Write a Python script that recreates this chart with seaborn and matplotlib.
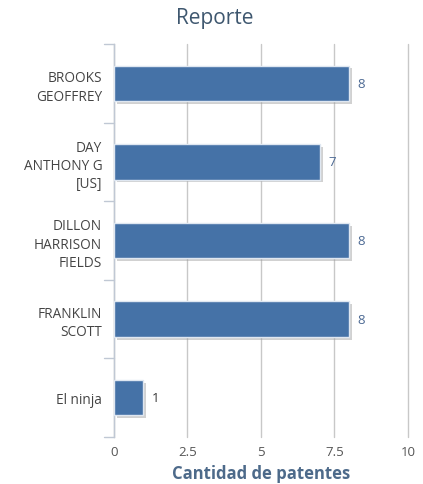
import pandas as pd
import matplotlib
matplotlib.use("Agg")
import matplotlib.pyplot as plt
import matplotlib.patheffects as pe
import seaborn as sns

# Chart data
inventors = ["BROOKS\nGEOFFREY", "DAY\nANTHONY G\n[US]", "DILLON\nHARRISON\nFIELDS",
             "FRANKLIN\nSCOTT", "El ninja"]
patents = [8, 7, 8, 8, 1]
x_ticks = [0, 2.5, 5, 7.5, 10]
x_tick_labels = ["0", "2.5", "5", "7.5", "10"]

sns.set_theme(style="white")
plt.rcParams['font.family'] = ['Open Sans', 'DejaVu Sans']

df = pd.DataFrame({"inventor": inventors, "patentes": patents})

fig = plt.figure(figsize=(4.23, 4.85), dpi=100)
ax = fig.add_axes([0.2695, 0.0969, 0.695, 0.8103])

sns.barplot(data=df, x="patentes", y="inventor", orient="h", color="#4572A7",
            saturation=1, width=0.45, edgecolor="#dfe7f1", linewidth=1.0, ax=ax, zorder=3)

for p in ax.patches:
    p.set_path_effects([pe.SimplePatchShadow(offset=(2, -2), shadow_rgbFace="#9a9a9a", alpha=0.45),
                        pe.Normal()])
    w = p.get_width()
    ax.annotate(f"{w:g}", (w, p.get_y() + p.get_height() / 2), xytext=(6, 0),
                textcoords="offset points", ha="left", va="center", fontsize=9.5,
                color="#4d6a94" if w > 1 else "#333333")

ax.set_xlim(0, 10)
ax.set_ylim(4.5, -0.5)
ax.set_xticks(x_ticks)
ax.set_xticklabels(x_tick_labels, color="#555555", fontsize=9.5)
ax.tick_params(axis="x", length=0, pad=6)
ax.grid(axis="x", color="#c8c8c8", linewidth=1, zorder=0)
for gl in ax.get_xgridlines():
    gl.set_clip_on(False)

# category labels with boundary ticks
ax.set_yticks(range(len(inventors)))
ax.set_yticklabels(inventors, color="#444444", fontsize=9.8, linespacing=1.3)
ax.tick_params(axis="y", length=0, pad=8.5)
for b in [-0.5, 0.5, 1.5, 2.5, 3.5, 4.5]:
    ax.plot([-0.35, 0], [b, b], color="#c0c8d4", linewidth=1, clip_on=False)

for s in ["top", "right", "bottom"]:
    ax.spines[s].set_visible(False)
ax.spines["left"].set_color("#c0c8d4")
ax.spines["left"].set_linewidth(1)

ax.set_ylabel("")
ax.set_xlabel("Cantidad de patentes", color="#4d6a8a", fontsize=12, fontweight="bold",
              labelpad=4)
fig.text(0.507, 0.962, "Reporte", ha="center", va="center", fontsize=15, color="#3e576f")

fig.savefig("out.png", dpi=100)
